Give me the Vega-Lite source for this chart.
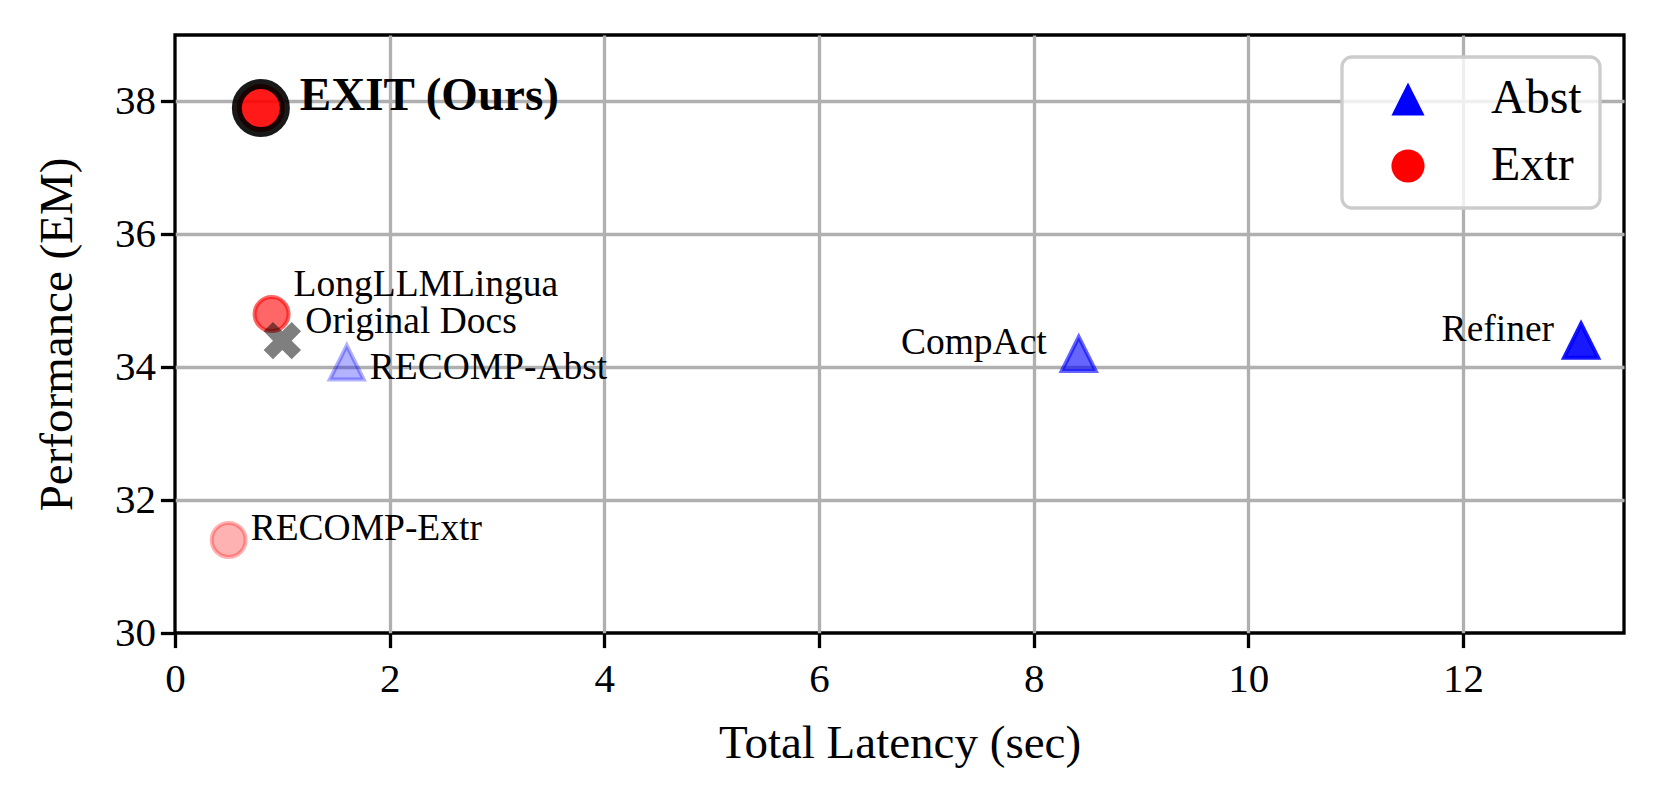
{
  "$schema": "https://vega.github.io/schema/vega-lite/v6.json",
  "width": 1449,
  "height": 598,
  "autosize": {"type": "none"},
  "padding": {"left": 175, "top": 35, "right": 35, "bottom": 172},
  "background": "white",
  "config": {
    "font": "Liberation Serif",
    "view": {"stroke": "black", "strokeWidth": 3.3},
    "axis": {
      "labelFont": "Liberation Serif",
      "titleFont": "Liberation Serif",
      "labelFontSize": 41,
      "titleFontSize": 47,
      "titleFontWeight": "normal",
      "labelColor": "black",
      "titleColor": "black",
      "labelFlush": false,
      "domain": false,
      "tickColor": "black",
      "tickWidth": 3.3,
      "tickSize": 14.6,
      "gridColor": "#b0b0b0",
      "gridWidth": 3.3,
      "labelPadding": 12
    },
    "legend": {
      "orient": "none",
      "legendX": 1167,
      "legendY": 22,
      "labelFont": "Liberation Serif",
      "labelFontSize": 48,
      "labelColor": "black",
      "padding": 18,
      "symbolOffset": 24,
      "labelOffset": 59,
      "rowPadding": 19,
      "strokeColor": "#cccccc",
      "strokeWidth": 3.3,
      "cornerRadius": 10,
      "fillColor": "rgba(255,255,255,0.8)",
      "symbolStrokeWidth": 0,
      "symbolOpacity": 1,
      "symbolSize": 1100
    }
  },
  "data": {
    "values": [
      {"name": "EXIT (Ours)", "latency": 0.8, "em": 37.9, "type": "Extr"},
      {"name": "LongLLMLingua", "latency": 0.9, "em": 34.8, "type": "Extr"},
      {"name": "Original Docs", "latency": 1.0, "em": 34.4, "type": "None"},
      {"name": "RECOMP-Abst", "latency": 1.6, "em": 34.07, "type": "Abst"},
      {"name": "RECOMP-Extr", "latency": 0.5, "em": 31.4, "type": "Extr"},
      {"name": "CompAct", "latency": 8.42, "em": 34.2, "type": "Abst"},
      {"name": "Refiner", "latency": 13.1, "em": 34.4, "type": "Abst"}
    ]
  },
  "encoding": {
    "x": {
      "field": "latency", "type": "quantitative",
      "scale": {"domain": [0, 13.5], "nice": false, "zero": false},
      "axis": {
        "title": "Total Latency (sec)",
        "values": [0, 2, 4, 6, 8, 10, 12],
        "titlePadding": 21,
        "gridOpacity": {"condition": {"test": "datum.value == 0", "value": 0}, "value": 1}
      }
    },
    "y": {
      "field": "em", "type": "quantitative",
      "scale": {"domain": [30, 39], "nice": false, "zero": false},
      "axis": {
        "title": "Performance (EM)",
        "values": [30, 32, 34, 36, 38],
        "titlePadding": 33,
        "labelPadding": 5,
        "gridOpacity": {"condition": {"test": "datum.value == 30", "value": 0}, "value": 1}
      }
    }
  },
  "layer": [
    {
      "transform": [{"filter": "datum.type != 'None' && datum.name != 'EXIT (Ours)'"}],
      "mark": {"type": "point", "filled": true, "opacity": 1, "size": 1156, "strokeWidth": 4},
      "encoding": {
        "fill": {"field": "type", "type": "nominal", "scale": {"domain": ["Abst", "Extr"], "range": ["#0000ff", "#ff0000"]}, "legend": {"title": null}},
        "stroke": {"field": "type", "type": "nominal", "scale": {"domain": ["Abst", "Extr"], "range": ["#0000ff", "#ff0000"]}, "legend": {"title": null}},
        "shape": {"field": "type", "type": "nominal", "scale": {"domain": ["Abst", "Extr"], "range": ["M0,-1L-1,1L1,1Z", "circle"]}, "legend": {"title": null}},
        "fillOpacity": {"field": "name", "type": "nominal", "scale": {"type": "ordinal", "domain": ["LongLLMLingua", "RECOMP-Abst", "RECOMP-Extr", "CompAct", "Refiner"], "range": [0.6, 0.3, 0.3, 0.6, 0.9]}, "legend": null},
        "strokeOpacity": {"field": "name", "type": "nominal", "scale": {"type": "ordinal", "domain": ["LongLLMLingua", "RECOMP-Abst", "RECOMP-Extr", "CompAct", "Refiner"], "range": [0.6, 0.3, 0.3, 0.6, 0.9]}, "legend": null}
      }
    },
    {
      "transform": [{"filter": "datum.name == 'EXIT (Ours)'"}],
      "mark": {"type": "point", "shape": "circle", "filled": true, "opacity": 1, "size": 2304, "fill": "#ff0000", "fillOpacity": 0.9, "stroke": "black", "strokeOpacity": 0.9, "strokeWidth": 10},
      "encoding": {}
    },
    {
      "transform": [{"filter": "datum.type == 'None'"}],
      "mark": {"type": "point", "filled": true, "opacity": 1, "size": 1400, "fill": "black", "fillOpacity": 0.5, "strokeWidth": 0, "shape": "M0,-0.5L0.5,-1L1,-0.5L0.5,0L1,0.5L0.5,1L0,0.5L-0.5,1L-1,0.5L-0.5,0L-1,-0.5L-0.5,-1Z"},
      "encoding": {}
    },
    {
      "transform": [{"filter": "datum.name == 'EXIT (Ours)'"}],
      "mark": {"type": "text", "align": "left", "baseline": "alphabetic", "dx": 39, "dy": 2, "fontSize": 47, "fontWeight": "bold", "font": "Liberation Serif", "color": "black"},
      "encoding": {"text": {"field": "name"}}
    },
    {
      "transform": [{"filter": "datum.name == 'LongLLMLingua'"}],
      "mark": {"type": "text", "align": "left", "baseline": "alphabetic", "dx": 22, "dy": -18, "fontSize": 37.5, "font": "Liberation Serif", "color": "black"},
      "encoding": {"text": {"field": "name"}}
    },
    {
      "transform": [{"filter": "datum.name == 'Original Docs'"}],
      "mark": {"type": "text", "align": "left", "baseline": "alphabetic", "dx": 23, "dy": -8, "fontSize": 37.5, "font": "Liberation Serif", "color": "black"},
      "encoding": {"text": {"field": "name"}}
    },
    {
      "transform": [{"filter": "datum.name == 'RECOMP-Abst'"}],
      "mark": {"type": "text", "align": "left", "baseline": "alphabetic", "dx": 23, "dy": 16, "fontSize": 37.5, "font": "Liberation Serif", "color": "black"},
      "encoding": {"text": {"field": "name"}}
    },
    {
      "transform": [{"filter": "datum.name == 'RECOMP-Extr'"}],
      "mark": {"type": "text", "align": "left", "baseline": "alphabetic", "dx": 22, "dy": 0, "fontSize": 37.5, "font": "Liberation Serif", "color": "black"},
      "encoding": {"text": {"field": "name"}}
    },
    {
      "transform": [{"filter": "datum.name == 'CompAct'"}],
      "mark": {"type": "text", "align": "right", "baseline": "alphabetic", "dx": -32, "dy": 0, "fontSize": 37.5, "font": "Liberation Serif", "color": "black"},
      "encoding": {"text": {"field": "name"}}
    },
    {
      "transform": [{"filter": "datum.name == 'Refiner'"}],
      "mark": {"type": "text", "align": "right", "baseline": "alphabetic", "dx": -27, "dy": 0, "fontSize": 37.5, "font": "Liberation Serif", "color": "black"},
      "encoding": {"text": {"field": "name"}}
    }
  ]
}
